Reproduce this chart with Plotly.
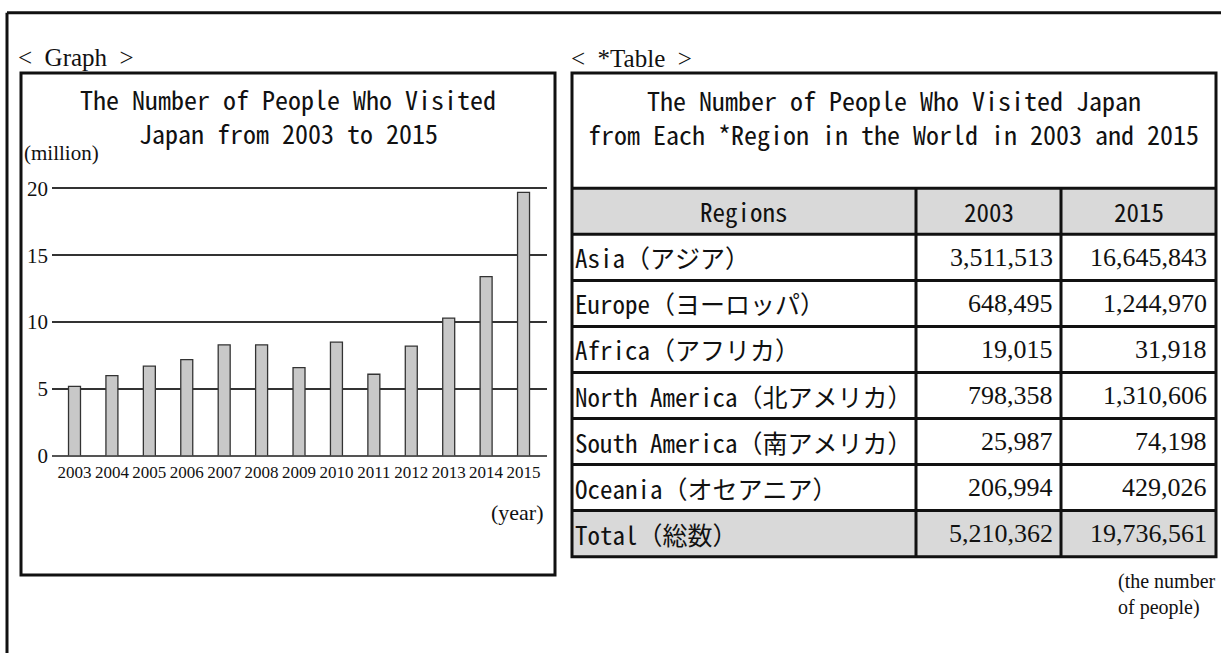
import plotly.graph_objects as go

# ---------------- data ----------------
years = [2003, 2004, 2005, 2006, 2007, 2008, 2009, 2010, 2011, 2012, 2013, 2014, 2015]
visitors_million = [5.2, 6.0, 6.7, 7.2, 8.3, 8.3, 6.6, 8.5, 6.1, 8.2, 10.3, 13.4, 19.7]
y_ticks = [0, 5, 10, 15, 20]

regions = ["Asia（アジア）", "Europe（ヨーロッパ）", "Africa（アフリカ）",
           "North America（北アメリカ）", "South America（南アメリカ）", "Oceania（オセアニア）"]
total_label = "Total（総数）"
table_header = ["Regions", "2003", "2015"]
people_2003 = [3511513, 648495, 19015, 798358, 25987, 206994]
people_2015 = [16645843, 1244970, 31918, 1310606, 74198, 429026]
total_2003 = 5210362
total_2015 = 19736561

graph_title = ["The Number of People Who Visited", "Japan from 2003 to 2015"]
table_title = ["The Number of People Who Visited Japan", "from Each *Region in the World in 2003 and 2015"]
unit_note = ["(the number", "of people)"]

# ---------------- layout constants (pixels) ----------------
W, H = 1221, 653
MONO = "Noto Sans Mono CJK JP, Noto Sans CJK JP, Liberation Mono, monospace"
SERIF = "Liberation Serif, Times New Roman, serif"
INK = "#111111"


def px(x):
    return x / W


def py(y):
    return 1 - y / H


GB = dict(l=21, r=555, t=67, b=585)          # graph box
PLOT = dict(l=52, r=547, t=186, b=462)       # plot area (y=20 at t, y=0 at b)
TB_L, TB_R, TB_T = 572, 1216, 67             # table box
COLS = [572, 916, 1061, 1216]
HEAD_T = 186
ROW_H = 47.5
n_rows = len(regions) + 2                    # header + regions + total
TB_B = HEAD_T + n_rows * ROW_H
TITLE_Y = 93
TITLE_STEP = 35

bar_slot = 37.42
first_center = 74.5
x_lo = years[0] - (first_center - PLOT["l"]) / bar_slot
x_hi = x_lo + (PLOT["r"] - PLOT["l"]) / bar_slot

y_top = 20.25                                  # a little headroom so the 20 gridline is drawn
ppu = (PLOT["b"] - PLOT["t"]) / 20.0
plot_top_px = PLOT["b"] - y_top * ppu

fig = go.Figure()
fig.add_trace(go.Bar(
    x=years, y=visitors_million, width=0.32,
    marker=dict(color="#c8c8c8", line=dict(color="#333333", width=1.3)),
    hoverinfo="x+y",
))

shapes = []
annos = []

# outer frame (left and top edges)
shapes.append(dict(type="line", xref="paper", yref="paper", x0=px(7), x1=px(7), y0=py(5), y1=-0.1,
                   line=dict(color=INK, width=3)))
shapes.append(dict(type="line", xref="paper", yref="paper", x0=px(7), x1=1.1, y0=py(5), y1=py(5),
                   line=dict(color=INK, width=3)))

# graph box
shapes.append(dict(type="rect", xref="paper", yref="paper", x0=px(GB["l"]), x1=px(GB["r"]),
                   y0=py(GB["b"]), y1=py(GB["t"]), line=dict(color=INK, width=3)))

# table fills (header, total)
for r in [0, n_rows - 1]:
    shapes.append(dict(type="rect", xref="paper", yref="paper", x0=px(TB_L), x1=px(TB_R),
                       y0=py(HEAD_T + (r + 1) * ROW_H), y1=py(HEAD_T + r * ROW_H),
                       fillcolor="#d9d9d9", line=dict(width=0), layer="below"))
# table outer box
shapes.append(dict(type="rect", xref="paper", yref="paper", x0=px(TB_L), x1=px(TB_R),
                   y0=py(TB_B), y1=py(TB_T), line=dict(color=INK, width=3)))
# horizontal rules
for r in range(n_rows):
    yy = HEAD_T + r * ROW_H
    shapes.append(dict(type="line", xref="paper", yref="paper", x0=px(TB_L), x1=px(TB_R),
                       y0=py(yy), y1=py(yy), line=dict(color=INK, width=3)))
# vertical rules
for cx in COLS[1:-1]:
    shapes.append(dict(type="line", xref="paper", yref="paper", x0=px(cx), x1=px(cx),
                       y0=py(HEAD_T), y1=py(TB_B), line=dict(color=INK, width=3)))


def text(x, y, s, size, family, xanchor="left", color=INK):
    annos.append(dict(xref="paper", yref="paper", x=px(x), y=py(y), text=s, showarrow=False,
                      xanchor=xanchor, yanchor="middle", align=xanchor if xanchor != "center" else "center",
                      borderpad=0, font=dict(size=size, family=family, color=color)))


# section labels
text(GB["l"] - 4, 51, "&lt;\u00a0 Graph \u00a0&gt;", 25, SERIF)
text(TB_L - 2, 52, "&lt;\u00a0 *Table \u00a0&gt;", 25, SERIF)

# titles (one annotation per line)
for k, line in enumerate(graph_title):
    text((GB["l"] + GB["r"]) / 2, TITLE_Y + k * TITLE_STEP, line, 26, MONO, "center")
for k, line in enumerate(table_title):
    text((TB_L + TB_R) / 2, TITLE_Y + 1 + k * TITLE_STEP, line, 26, MONO, "center")

# axis captions
text(GB["l"] + 2, 150, "(million)", 21, SERIF)
text(PLOT["r"] - 2, 520, "(year)", 22, SERIF, "right")

# table header
for c, h in enumerate(table_header):
    text((COLS[c] + COLS[c + 1]) / 2, HEAD_T + ROW_H / 2, h, 25, MONO, "center")

# table body
labels = regions + [total_label]
col03 = people_2003 + [total_2003]
col15 = people_2015 + [total_2015]
for i, (lab, a, b) in enumerate(zip(labels, col03, col15)):
    yc = HEAD_T + (i + 1.5) * ROW_H
    text(COLS[0] + 2, yc, lab, 25, MONO, "left")
    text(COLS[2] - 7, yc, f"{a:,}", 26, SERIF, "right")
    text(COLS[3] - 8, yc, f"{b:,}", 26, SERIF, "right")

# unit note
for k, line in enumerate(unit_note):
    text(1117, TB_B + 26 + k * 26, line, 20, SERIF)

fig.update_layout(
    width=W, height=H, margin=dict(l=0, r=0, t=0, b=0),
    paper_bgcolor="white", plot_bgcolor="white", showlegend=False,
    shapes=shapes, annotations=annos,
    xaxis=dict(domain=[px(PLOT["l"]), px(PLOT["r"])], range=[x_lo, x_hi],
               tickvals=years, ticktext=[str(y) for y in years], ticks="", tickangle=0,
               showgrid=False, zeroline=False, showline=False,
               tickfont=dict(family=SERIF, size=17, color=INK), ticklabelstandoff=4, fixedrange=True),
    yaxis=dict(domain=[py(PLOT["b"]), py(plot_top_px)], range=[0, y_top],
               tickvals=y_ticks, ticktext=[str(v) for v in y_ticks], ticks="",
               showgrid=True, gridcolor="#333333", gridwidth=1.5,
               zeroline=True, zerolinecolor="#555555", zerolinewidth=1.5, showline=False,
               tickfont=dict(family=SERIF, size=21, color=INK), ticklabelstandoff=3, fixedrange=True),
)

fig.write_html("out.html", config={"displayModeBar": False},
               post_script="document.body.style.margin='0px';")
